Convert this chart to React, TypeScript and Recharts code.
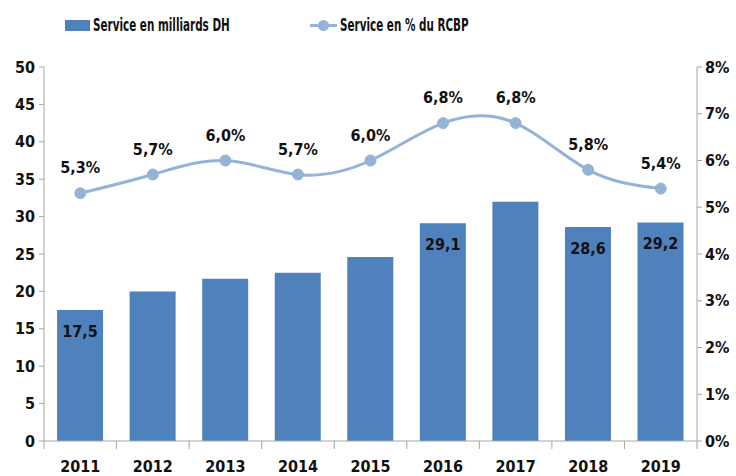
import React from 'react';
import {
  ComposedChart,
  Bar,
  Line,
  XAxis,
  YAxis,
  LabelList,
} from 'recharts';

// Data
const years = ['2011', '2012', '2013', '2014', '2015', '2016', '2017', '2018', '2019'];
const serviceMds = [17.5, 20.0, 21.7, 22.5, 24.6, 29.1, 32.0, 28.6, 29.2];
const servicePct = [5.3, 5.7, 6.0, 5.7, 6.0, 6.8, 6.8, 5.8, 5.4];
const barLabels = ['17,5', null, null, null, null, '29,1', null, '28,6', '29,2'];
const leftTicks = [0, 5, 10, 15, 20, 25, 30, 35, 40, 45, 50];
const rightTicks = [0, 1, 2, 3, 4, 5, 6, 7, 8];
const legendNames = ['Service en milliards DH', 'Service en % du RCBP'];

const chartData = years.map((year, i) => ({
  year,
  mds: serviceMds[i],
  pct: servicePct[i],
  barLabel: barLabels[i],
}));

const FONT = "'DejaVu Sans Condensed', 'Liberation Sans Narrow', sans-serif";
const BAR_COLOR = '#4F81BD';
const LINE_COLOR = '#95B3D7';
const AXIS_COLOR = '#A6A6A6';

const WIDTH = 736;
const HEIGHT = 476;
const PLOT_LEFT = 44;
const PLOT_RIGHT = 697;
const PLOT_BOTTOM = 441;
const BAND = (PLOT_RIGHT - PLOT_LEFT) / years.length;

const YearTick = (props: any) => {
  const { payload, index } = props;
  const cx = payload.coordinate;
  const left = cx - BAND / 2;
  return (
    <g>
      <line x1={left} x2={left} y1={PLOT_BOTTOM} y2={PLOT_BOTTOM + 8} stroke={AXIS_COLOR} />
      {index === years.length - 1 && (
        <line x1={left + BAND} x2={left + BAND} y1={PLOT_BOTTOM} y2={PLOT_BOTTOM + 8} stroke={AXIS_COLOR} />
      )}
      <text
        x={cx}
        y={PLOT_BOTTOM + 25}
        textAnchor="middle"
        dominantBaseline="central"
        fontFamily={FONT}
        fontWeight="bold"
        fontSize={16}
        fill="#111"
      >
        {payload.value}
      </text>
    </g>
  );
};

const BarLabel = (props: any) => {
  const { x, y, width, value } = props;
  if (value == null) return null;
  return (
    <text
      x={x + width / 2}
      y={y + 21}
      textAnchor="middle"
      dominantBaseline="central"
      fontFamily={FONT}
      fontWeight="bold"
      fontSize={16}
      fill="#111"
    >
      {value}
    </text>
  );
};

const fmtPct = (v: number) => `${v.toFixed(1).replace('.', ',')}%`;

const legendText: React.CSSProperties = {
  position: 'absolute',
  top: 15,
  fontFamily: FONT,
  fontWeight: 'bold',
  fontSize: 17,
  lineHeight: '20px',
  color: '#111',
  whiteSpace: 'nowrap',
  transform: 'scaleX(0.68)',
  transformOrigin: 'left center',
};

const App: React.FC = () => {
  return (
    <div style={{ position: 'absolute', left: 0, top: 0, width: WIDTH, height: HEIGHT, background: '#fff' }}>
      {/* legend */}
      <div style={{ position: 'absolute', left: 0, top: 0, width: WIDTH, height: 50, zIndex: 2 }}>
        <span style={{ position: 'absolute', left: 65, top: 20, width: 25, height: 11, background: BAR_COLOR }} />
        <span style={{ ...legendText, left: 93 }}>{legendNames[0]}</span>
        <span style={{ position: 'absolute', left: 310, top: 24, width: 27, height: 3, background: LINE_COLOR }} />
        <span
          style={{
            position: 'absolute',
            left: 318,
            top: 20,
            width: 11,
            height: 11,
            borderRadius: '50%',
            background: LINE_COLOR,
          }}
        />
        <span style={{ ...legendText, left: 340 }}>{legendNames[1]}</span>
      </div>
      <ComposedChart
        width={WIDTH}
        height={HEIGHT}
        data={chartData}
        margin={{ top: 67, right: 0, bottom: 0, left: 0 }}
        barCategoryGap="18%"
      >
        <XAxis
          dataKey="year"
          height={HEIGHT - PLOT_BOTTOM}
          axisLine={{ stroke: AXIS_COLOR }}
          tickLine={false}
          tick={<YearTick />}
          interval={0}
        />
        <YAxis
          yAxisId="left"
          width={PLOT_LEFT}
          domain={[0, 50]}
          ticks={leftTicks}
          interval={0}
          axisLine={{ stroke: AXIS_COLOR }}
          tickLine={{ stroke: AXIS_COLOR }}
          tickSize={5}
          tickMargin={4}
          tick={{ fill: '#111', fontSize: 16, fontFamily: FONT, fontWeight: 'bold' }}
        />
        <YAxis
          yAxisId="right"
          orientation="right"
          width={WIDTH - PLOT_RIGHT}
          domain={[0, 8]}
          ticks={rightTicks}
          interval={0}
          tickFormatter={(v: number) => `${v}%`}
          axisLine={{ stroke: AXIS_COLOR }}
          tickLine={{ stroke: AXIS_COLOR }}
          tickSize={5}
          tickMargin={3}
          tick={{ fill: '#111', fontSize: 16, fontFamily: FONT, fontWeight: 'bold' }}
        />
        <Bar yAxisId="left" dataKey="mds" fill={BAR_COLOR} isAnimationActive={false}>
          <LabelList dataKey="barLabel" content={<BarLabel />} />
        </Bar>
        <Line
          yAxisId="right"
          type="natural"
          dataKey="pct"
          stroke={LINE_COLOR}
          strokeWidth={3}
          dot={{ r: 5.5, fill: LINE_COLOR, stroke: LINE_COLOR, strokeWidth: 1 }}
          isAnimationActive={false}
        >
          <LabelList
            dataKey="pct"
            position="top"
            offset={20}
            formatter={(v: any) => fmtPct(Number(v))}
            style={{ fill: '#111', fontSize: 16, fontFamily: FONT, fontWeight: 'bold' }}
          />
        </Line>
      </ComposedChart>
    </div>
  );
};

export default App;
